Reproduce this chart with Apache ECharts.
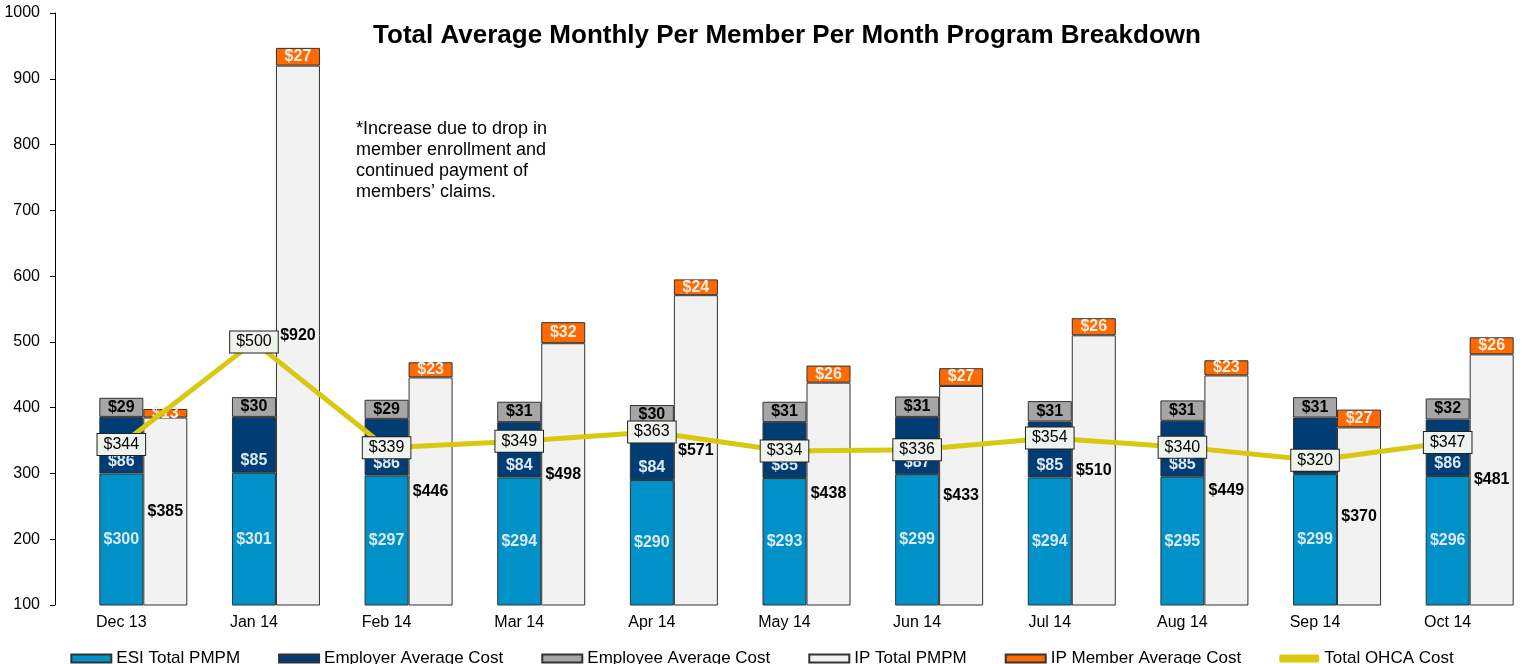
<!DOCTYPE html>
<html>
<head>
<meta charset="utf-8">
<script src="https://cdn.jsdelivr.net/npm/echarts@6/dist/echarts.min.js"></script>
<style>html,body{margin:0;padding:0;background:#fff;}#chart{width:1524px;height:664px;}</style>
</head>
<body>
<div id="chart"></div>
<script>
var categories = ['Dec 13','Jan 14','Feb 14','Mar 14','Apr 14','May 14','Jun 14','Jul 14','Aug 14','Sep 14','Oct 14'];
var esiTotal = [300, 301, 297, 294, 290, 293, 299, 294, 295, 299, 296];
var employerCost = [86, 85, 86, 84, 84, 85, 87, 85, 85, 86, 86];
var employeeCost = [29, 30, 29, 31, 30, 31, 31, 31, 31, 31, 32];
var ipTotal = [385, 920, 446, 498, 571, 438, 433, 510, 449, 370, 481];
var ipMember = [13, 27, 23, 32, 24, 26, 27, 26, 23, 27, 26];
var ohcaTotal = [344, 500, 339, 349, 363, 334, 336, 354, 340, 320, 347];
var yTicks = [100, 1000, 100]; // min, max, interval

var FONT = 'Liberation Sans, Arial, sans-serif';
var border = { borderColor: '#333', borderWidth: 1 };
function money(p) { return '$' + p.value; }

function barSeries(name, stack, data, color, labelColor, labelPos, labelDist) {
  return {
    name: name, type: 'bar', stack: stack, data: data,
    barWidth: 44, barGap: '0%',
    itemStyle: Object.assign({ color: color }, border),
    label: {
      show: true, position: labelPos || 'inside', distance: labelDist || 5,
      formatter: money, color: labelColor, fontFamily: FONT,
      fontSize: 16, fontWeight: 'bold'
    },
    z: 2
  };
}

var chart = echarts.init(document.getElementById('chart'), null, { renderer: 'canvas' });
var option = {
  backgroundColor: '#fff',
  animation: false,
  title: {
    text: 'Total Average Monthly Per Member Per Month Program Breakdown',
    left: 782, top: 18, textAlign: 'center',
    textStyle: { fontFamily: FONT, fontSize: 26, fontWeight: 'bold', color: '#000' }
  },
  graphic: [{
    type: 'text', left: 356, top: 119,
    style: {
      text: '*Increase due to drop in\nmember enrollment and\ncontinued payment of\nmembers\u2019 claims.',
      font: '18px ' + FONT, lineHeight: 21, fill: '#000'
    }
  }],
  legend: {
    top: 645, left: 'center',
    itemWidth: 40, itemHeight: 8, itemGap: 38,
    textStyle: { fontFamily: FONT, fontSize: 17, color: '#000' },
    data: [
      { name: 'ESI Total PMPM', icon: 'rect' },
      { name: 'Employer Average Cost', icon: 'rect' },
      { name: 'Employee Average Cost', icon: 'rect' },
      { name: 'IP Total PMPM', icon: 'rect' },
      { name: 'IP Member Average Cost', icon: 'rect' },
      { name: 'Total OHCA Cost', icon: 'roundRect', itemStyle: { color: '#D9C80F', borderWidth: 0 } }
    ]
  },
  grid: { left: 55, right: 10, top: 13, bottom: 59, containLabel: false },
  xAxis: {
    type: 'category', data: categories,
    axisLine: { show: false }, axisTick: { show: false },
    axisLabel: { fontFamily: FONT, fontSize: 16, color: '#000', margin: 10 }
  },
  yAxis: {
    type: 'value', min: yTicks[0], max: yTicks[1], interval: yTicks[2],
    axisLine: { show: true, lineStyle: { color: '#000', width: 1 } },
    axisTick: { show: true, length: 5, lineStyle: { color: '#000' } },
    splitLine: { show: false },
    axisLabel: { fontFamily: FONT, fontSize: 16, color: '#000', margin: 15, formatter: function (v) { return String(v); } }
  },
  series: [
    { name: 'pad', type: 'bar', stack: 'pad', data: categories.map(function () { return null; }), barWidth: 44, barGap: '0%', silent: true },
    barSeries('ESI Total PMPM', 'esi', esiTotal, '#0091C9', '#DCE9F2'),
    barSeries('Employer Average Cost', 'esi', employerCost, '#003D74', '#DCE9F2', 'insideBottom', 4),
    barSeries('Employee Average Cost', 'esi', employeeCost, '#A6A6A6', '#000'),
    barSeries('IP Total PMPM', 'ip', ipTotal, '#F2F2F2', '#000'),
    barSeries('IP Member Average Cost', 'ip', ipMember, '#FF6A00', '#F8EDE4'),
    {
      name: 'Total OHCA Cost', type: 'line', data: ohcaTotal,
      symbol: 'circle', symbolSize: 2, showSymbol: true,
      lineStyle: { color: '#D9C80F', width: 5 },
      itemStyle: { color: '#D9C80F' },
      label: {
        show: true, position: 'inside', formatter: money,
        fontFamily: FONT, fontSize: 16, color: '#000',
        backgroundColor: '#EEF3EE', borderColor: '#222', borderWidth: 1,
        padding: [3, 6, 2, 6]
      },
      z: 5
    }
  ]
};
chart.setOption(option);
</script>
</body>
</html>
